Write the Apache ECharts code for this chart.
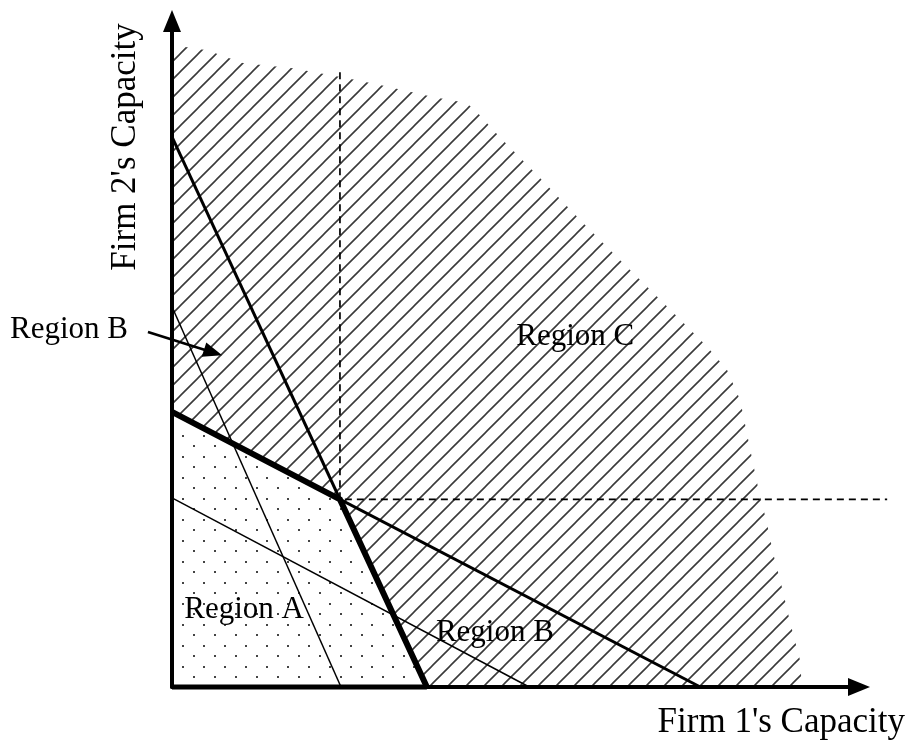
<!DOCTYPE html>
<html><head><meta charset="utf-8">
<script src="https://cdn.jsdelivr.net/npm/echarts@6/dist/echarts.min.js"></script>
<style>html,body{margin:0;padding:0;background:#fff}#chart{width:908px;height:740px}</style>
</head><body><div id="chart"></div>
<script>
// ---- Data (capacity units) ----
const firm1Line = [[0, 8.26], [3.71, 0]];        // steep line
const firm2Line = [[0, 4.13], [7.69, 0]];        // shallow line
const thinSteepLine = [[0, 5.71], [2.46, 0]];
const thinShallowLine = [[0, 2.84], [5.2, 0]];
const dashedVerticalTop = 9.23;
const dashedHorizontalEnd = 10.41;
const regionCFrontier = [[0,9.64],[0.51,9.56],[1.03,9.37],[1.76,9.29],[2.55,9.14],[3.03,9.04],[3.80,8.86],[4.29,8.77],[4.45,8.62],[4.77,8.26],[5.36,7.64],[5.98,6.97],[6.56,6.37],[7.21,5.71],[7.79,5.11],[8.08,4.76],[8.27,4.31],[8.41,3.60],[8.53,3.00],[8.66,2.46],[8.75,2.01],[8.88,1.49],[9.00,0.96],[9.14,0.41],[9.17,0]];
const regionNames = ['Region C', 'Region A', 'Region B', 'Region B'];
const regionAnchors = [[5.87, 5.26], [1.05, 1.16], [4.70, 0.81], [-1.50, 5.36]];
const pointerFrom = [-0.35, 5.33];
const pointerTo = [0.73, 4.98];
const axisTitles = ["Firm 1's Capacity", "Firm 2's Capacity"];

function intersect(a, b) {
  const [x1, y1] = a[0], [x2, y2] = a[1], [x3, y3] = b[0], [x4, y4] = b[1];
  const d = (x1 - x2) * (y3 - y4) - (y1 - y2) * (x3 - x4);
  const t = ((x1 - x3) * (y3 - y4) - (y1 - y3) * (x3 - x4)) / d;
  return [x1 + t * (x2 - x1), y1 + t * (y2 - y1)];
}
const kink = intersect(firm1Line, firm2Line);

// patterns
function hatchPattern() {
  const s = 18, c = document.createElement('canvas');
  c.width = s; c.height = s;
  const g = c.getContext('2d');
  g.strokeStyle = '#3a3a3a'; g.lineWidth = 1.6;
  g.beginPath();
  g.moveTo(0, s); g.lineTo(s, 0);
  g.moveTo(-s / 2, s / 2); g.lineTo(s / 2, -s / 2);
  g.moveTo(s / 2, 1.5 * s); g.lineTo(1.5 * s, s / 2);
  g.stroke();
  return c;
}
function dotPattern() {
  const c = document.createElement('canvas');
  c.width = 21; c.height = 21;
  const g = c.getContext('2d');
  g.fillStyle = '#444';
  g.fillRect(4, 4, 2, 2);
  g.fillRect(14, 15, 2, 2);
  return c;
}
const hatch = hatchPattern();
const dots = dotPattern();

const hatchPoly = [[0, firm2Line[0][1]]].concat(regionCFrontier, [[firm1Line[1][0], 0], kink]);
const regionAPoly = [[0, 0], [0, firm2Line[0][1]], kink, [firm1Line[1][0], 0]];
const font = '"Liberation Serif", "Times New Roman", serif';

function polySeries(points, fill, z) {
  return {
    type: 'custom', z: z, clip: false, silent: true,
    data: [0],
    renderItem: function (params, api) {
      return {
        type: 'polygon',
        shape: { points: points.map(p => api.coord(p)) },
        style: { fill: { image: fill, repeat: 'repeat' }, stroke: null }
      };
    }
  };
}
function pathSeries(points, width, z, dash) {
  return {
    type: 'custom', z: z, clip: false, silent: true,
    data: [0],
    renderItem: function (params, api) {
      return {
        type: 'polyline',
        shape: { points: points.map(p => api.coord(p)) },
        style: { stroke: '#000', lineWidth: width, fill: null, lineJoin: 'miter', lineCap: 'butt', lineDash: dash || null }
      };
    }
  };
}

const chart = echarts.init(document.getElementById('chart'));
chart.setOption({
  animation: false,
  backgroundColor: '#fff',
  grid: { left: 172, top: 21, right: 49, bottom: 53 },
  xAxis: {
    type: 'value', min: 0, max: 10, z: 20,
    axisLine: { show: true, symbol: ['none', 'triangle'], symbolSize: [18, 22], lineStyle: { color: '#000', width: 4 } },
    axisTick: { show: false }, axisLabel: { show: false }, splitLine: { show: false }
  },
  yAxis: {
    type: 'value', min: 0, max: 10, z: 20,
    axisLine: { show: true, symbol: ['none', 'triangle'], symbolSize: [18, 22], lineStyle: { color: '#000', width: 4 } },
    axisTick: { show: false }, axisLabel: { show: false }, splitLine: { show: false }
  },
  graphic: [
    { type: 'text', x: 905, y: 723, z: 30,
      style: { text: axisTitles[0], font: '35px ' + font, fill: '#000', align: 'right', verticalAlign: 'middle', textAlign: 'right', textVerticalAlign: 'middle' } },
    { type: 'text', x: 126, y: 147, rotation: Math.PI / 2, z: 30,
      style: { text: axisTitles[1], font: '35px ' + font, fill: '#000', align: 'center', verticalAlign: 'middle', textAlign: 'center', textVerticalAlign: 'middle' } }
  ],
  series: [
    polySeries(hatchPoly, hatch, 1),
    polySeries(regionAPoly, dots, 2),
    pathSeries(thinSteepLine, 1.5, 5),
    pathSeries(thinShallowLine, 1.5, 5),
    pathSeries(firm1Line, 3, 6),
    pathSeries(firm2Line, 3, 6),
    pathSeries([[0, firm2Line[0][1]], kink, [firm1Line[1][0], 0]], 6, 7),
    pathSeries([[0, 0], [firm1Line[1][0], 0]], 5, 7),
    pathSeries([[kink[0], dashedVerticalTop], kink, [dashedHorizontalEnd, kink[1]]], 1.7, 4, [7, 5]),
    {
      type: 'scatter', z: 10, clip: false, silent: true, symbolSize: 0,
      itemStyle: { opacity: 1 },
      data: regionNames.map((n, i) => ({ name: n, value: regionAnchors[i] })),
      label: { show: true, position: 'inside', formatter: '{b}', color: '#000', opacity: 1, fontSize: 31, fontFamily: font }
    },
    {
      type: 'custom', z: 10, clip: false, silent: true, data: [0],
      renderItem: function (params, api) {
        const a = api.coord(pointerFrom), b = api.coord(pointerTo);
        const dx = b[0] - a[0], dy = b[1] - a[1], L = Math.hypot(dx, dy);
        const ux = dx / L, uy = dy / L, hl = 19, hw = 7.5;
        const base = [b[0] - ux * hl, b[1] - uy * hl];
        return {
          type: 'group',
          children: [
            { type: 'line', shape: { x1: a[0], y1: a[1], x2: base[0] + ux * 2, y2: base[1] + uy * 2 }, style: { stroke: '#000', lineWidth: 2.5 } },
            { type: 'polygon', shape: { points: [b, [base[0] - uy * hw, base[1] + ux * hw], [base[0] + uy * hw, base[1] - ux * hw]] }, style: { fill: '#000' } }
          ]
        };
      }
    }
  ]
});
</script></body></html>
